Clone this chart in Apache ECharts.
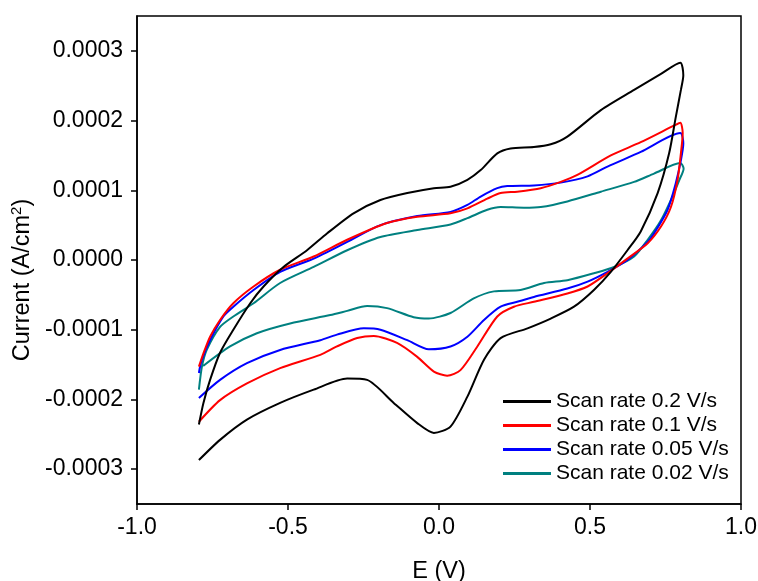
<!DOCTYPE html>
<html>
<head>
<meta charset="utf-8">
<script src="https://cdn.jsdelivr.net/npm/echarts@6/dist/echarts.min.js"></script>
<style>html,body{margin:0;padding:0;background:#fff;}#c{width:758px;height:581px;}</style>
</head>
<body>
<div id="c"></div>
<script>
// Series names
const seriesNames = ['Scan rate 0.2 V/s', 'Scan rate 0.1 V/s', 'Scan rate 0.05 V/s', 'Scan rate 0.02 V/s'];
const seriesColors = ['#000000', '#ff0000', '#0000ff', '#008080'];

// Tick labels
const xTicks = [-1.0, -0.5, 0.0, 0.5, 1.0];
const yTicks = [-0.0003, -0.0002, -0.0001, 0.0000, 0.0001, 0.0002, 0.0003];

// Scan rate 0.2 V/s
const E_02 = [-0.795,-0.725,-0.636,-0.526,-0.415,-0.304,-0.238,-0.150,-0.072,-0.017,0.038,0.094,0.149,0.204,0.293,0.370,0.447,0.513,0.569,0.624,0.668,0.724,0.762,0.784,0.801,0.809,0.799,
  0.735,0.646,0.536,0.425,0.370,0.314,0.237,0.193,0.138,0.094,0.038,-0.017,-0.105,-0.194,-0.283,-0.371,-0.437,-0.515,-0.581,-0.625,-0.681,-0.725,-0.758,-0.780,-0.795];
const I_02 = [-2.87e-4,-2.58e-4,-2.29e-4,-2.05e-4,-1.86e-4,-1.70e-4,-1.72e-4,-2.05e-4,-2.34e-4,-2.48e-4,-2.39e-4,-1.96e-4,-1.43e-4,-1.12e-4,-0.98e-4,-0.84e-4,-0.67e-4,-0.43e-4,-0.17e-4,0.14e-4,0.41e-4,0.96e-4,1.53e-4,2.05e-4,2.44e-4,2.65e-4,2.83e-4,
  2.67e-4,2.44e-4,2.15e-4,1.77e-4,1.66e-4,1.62e-4,1.60e-4,1.53e-4,1.29e-4,1.15e-4,1.05e-4,1.03e-4,0.96e-4,0.86e-4,0.67e-4,0.38e-4,0.14e-4,-0.10e-4,-0.38e-4,-0.62e-4,-1.00e-4,-1.33e-4,-1.72e-4,-2.05e-4,-2.36e-4];

// Scan rate 0.1 V/s
const E_01 = [-0.795,-0.725,-0.636,-0.526,-0.393,-0.338,-0.271,-0.216,-0.139,-0.072,-0.017,0.027,0.071,0.127,0.193,0.248,0.314,0.425,0.492,0.558,0.624,0.691,0.735,0.768,0.790,0.801,0.807,0.799,
  0.779,0.668,0.569,0.458,0.403,0.337,0.259,0.204,0.160,0.094,0.038,-0.072,-0.172,-0.304,-0.415,-0.526,-0.614,-0.681,-0.725,-0.758,-0.780,-0.795];
const I_01 = [-2.32e-4,-2.01e-4,-1.77e-4,-1.55e-4,-1.36e-4,-1.24e-4,-1.12e-4,-1.09e-4,-1.19e-4,-1.39e-4,-1.60e-4,-1.66e-4,-1.58e-4,-1.24e-4,-0.81e-4,-0.67e-4,-0.60e-4,-0.48e-4,-0.38e-4,-0.19e-4,0.02e-4,0.24e-4,0.48e-4,0.76e-4,1.15e-4,1.53e-4,1.82e-4,1.97e-4,
  1.93e-4,1.69e-4,1.50e-4,1.22e-4,1.12e-4,1.03e-4,0.98e-4,0.96e-4,0.88e-4,0.74e-4,0.67e-4,0.62e-4,0.53e-4,0.29e-4,0.05e-4,-0.14e-4,-0.38e-4,-0.62e-4,-0.86e-4,-1.10e-4,-1.34e-4,-1.53e-4];

// Scan rate 0.05 V/s
const E_005 = [-0.795,-0.725,-0.636,-0.526,-0.393,-0.338,-0.249,-0.194,-0.105,-0.034,0.038,0.094,0.149,0.204,0.259,0.314,0.425,0.492,0.558,0.624,0.691,0.712,0.757,0.784,0.801,0.809,0.799,
  0.668,0.558,0.492,0.403,0.314,0.226,0.193,0.138,0.094,0.038,-0.072,-0.194,-0.304,-0.415,-0.526,-0.614,-0.681,-0.714,-0.758,-0.785,-0.795];
const I_005 = [-1.98e-4,-1.72e-4,-1.48e-4,-1.29e-4,-1.15e-4,-1.07e-4,-0.98e-4,-1.00e-4,-1.15e-4,-1.28e-4,-1.24e-4,-1.10e-4,-0.86e-4,-0.67e-4,-0.60e-4,-0.53e-4,-0.41e-4,-0.31e-4,-0.17e-4,0.00e-4,0.26e-4,0.38e-4,0.72e-4,1.10e-4,1.43e-4,1.67e-4,1.82e-4,
  1.55e-4,1.34e-4,1.20e-4,1.11e-4,1.07e-4,1.06e-4,1.03e-4,0.91e-4,0.79e-4,0.69e-4,0.63e-4,0.50e-4,0.26e-4,0.02e-4,-0.17e-4,-0.43e-4,-0.67e-4,-0.81e-4,-1.15e-4,-1.43e-4,-1.62e-4];

// Scan rate 0.02 V/s
const E_002 = [-0.781,-0.692,-0.603,-0.493,-0.360,-0.304,-0.238,-0.172,-0.084,-0.034,0.038,0.115,0.182,0.270,0.348,0.425,0.513,0.580,0.646,0.691,0.735,0.773,0.796,0.810,0.799,
  0.712,0.646,0.536,0.425,0.337,0.281,0.204,0.160,0.094,0.038,-0.072,-0.194,-0.304,-0.415,-0.526,-0.614,-0.681,-0.725,-0.769,-0.785,-0.795];
const I_002 = [-1.52e-4,-1.24e-4,-1.05e-4,-0.91e-4,-0.79e-4,-0.73e-4,-0.66e-4,-0.69e-4,-0.82e-4,-0.84e-4,-0.76e-4,-0.55e-4,-0.45e-4,-0.43e-4,-0.33e-4,-0.29e-4,-0.19e-4,-0.10e-4,0.05e-4,0.29e-4,0.57e-4,0.91e-4,1.15e-4,1.31e-4,1.39e-4,
  1.24e-4,1.12e-4,0.98e-4,0.84e-4,0.76e-4,0.75e-4,0.76e-4,0.72e-4,0.60e-4,0.51e-4,0.43e-4,0.33e-4,0.14e-4,-0.10e-4,-0.33e-4,-0.62e-4,-0.81e-4,-0.96e-4,-1.29e-4,-1.53e-4,-1.86e-4];

const allE = [E_02, E_01, E_005, E_002];
const allI = [I_02, I_01, I_005, I_002];

const FONT = '"Liberation Sans", Arial, sans-serif';

const chart = echarts.init(document.getElementById('c'), null, {renderer: 'canvas'});
const series = seriesNames.map((name, k) => ({
  name: name,
  type: 'line',
  data: allE[k].map((e, i) => [e, allI[k][i]]),
  symbol: 'none',
  smooth: 0.25,
  lineStyle: {color: seriesColors[k], width: 2},
  itemStyle: {color: seriesColors[k]},
  z: 10 - k,
  animation: false
}));

chart.setOption({
  backgroundColor: '#ffffff',
  animation: false,
  grid: {left: 137, right: 17, top: 16, bottom: 77, show: true, borderColor: '#000', borderWidth: 1.5,
    backgroundColor: 'transparent', containLabel: false, outerBoundsMode: 'none'},
  legend: {
    orient: 'vertical',
    left: 498,
    top: 386,
    itemWidth: 48,
    itemHeight: 3,
    itemGap: 3,
    textStyle: {fontFamily: FONT, fontSize: 21, color: '#000', lineHeight: 21},
    data: seriesNames.map((n, k) => ({name: n, icon: 'rect', itemStyle: {color: seriesColors[k]}}))
  },
  xAxis: {
    type: 'value',
    min: -1, max: 1, interval: 0.5,
    name: 'E (V)',
    nameLocation: 'middle',
    nameGap: 56,
    nameTextStyle: {fontFamily: FONT, fontSize: 23.5, color: '#000'},
    axisLine: {show: true, onZero: false, lineStyle: {color: '#000', width: 1.5}},
    axisTick: {show: true, inside: false, length: 6, lineStyle: {color: '#000', width: 1.5}},
    axisLabel: {fontFamily: FONT, fontSize: 23, color: '#000', margin: 12, formatter: v => v.toFixed(1)},
    splitLine: {show: false}
  },
  yAxis: {
    type: 'value',
    min: -0.00035, max: 0.00035,
    name: 'Current (A/cm{sup|2})',
    nameLocation: 'middle',
    nameGap: 98,
    nameTextStyle: {fontFamily: FONT, fontSize: 23.5, color: '#000', padding: [0, 40, 0, 0],
      rich: {sup: {fontFamily: FONT, fontSize: 15, color: '#000', verticalAlign: 'top', padding: [0, 0, 10, 0]}}},
    axisLine: {show: true, onZero: false, lineStyle: {color: '#000', width: 1.5}},
    axisTick: {show: true, inside: false, length: 6, customValues: yTicks, lineStyle: {color: '#000', width: 1.5}},
    axisLabel: {fontFamily: FONT, fontSize: 23, color: '#000', margin: 14, customValues: yTicks, formatter: v => v.toFixed(4)},
    splitLine: {show: false}
  },
  series: series
});
</script>
</body>
</html>
